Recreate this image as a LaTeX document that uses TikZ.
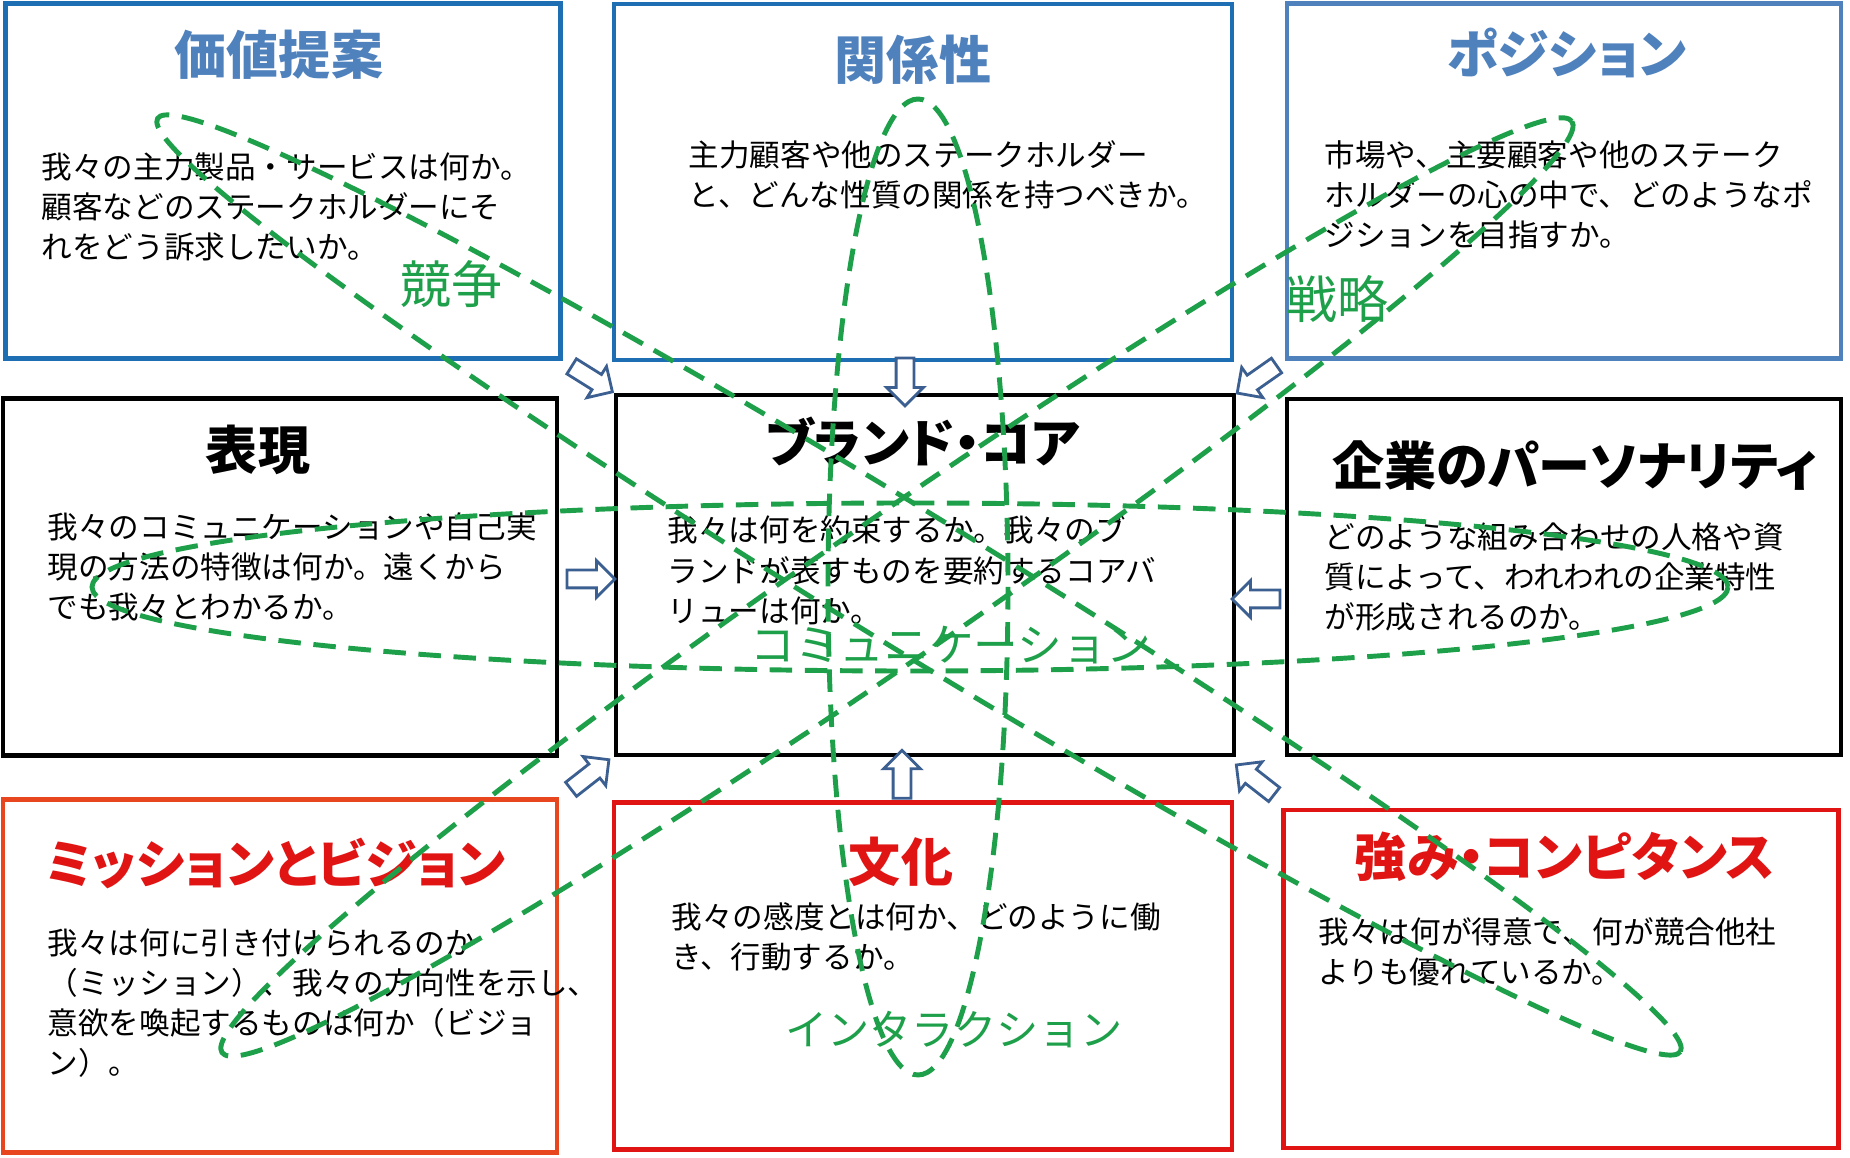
\documentclass[tikz,border=0pt]{standalone}
\usepackage{fontspec}
\setmainfont{Noto Sans CJK JP}
\newfontfamily\ttlfont[RawFeature=+palt]{Noto Sans CJK JP}
\usetikzlibrary{shapes.arrows,calc}
\definecolor{boxblue}{RGB}{30,110,180}
\definecolor{ttlblue}{RGB}{79,129,189}
\definecolor{corered}{RGB}{225,20,20}
\definecolor{misred}{RGB}{232,70,30}
\definecolor{ringgreen}{RGB}{30,160,75}
\definecolor{arrblue}{RGB}{60,95,145}

\begin{document}
\begin{tikzpicture}[x=0.01cm,y=-0.01cm,
  box/.style={draw,line width=1.3pt,fill=white,inner sep=0pt},
  ttl/.style={font=\ttlfont\bfseries\fontsize{14.8pt}{18pt}\selectfont,inner sep=0pt},
  body/.style={font=\fontsize{8.7pt}{11.4pt}\selectfont,align=left,anchor=north west,inner sep=0pt},
  ring/.style={draw=ringgreen,line width=1.4pt,dash pattern=on 6.4pt off 3.6pt},
  ringlbl/.style={text=ringgreen,inner sep=0pt},
  hollow/.style={single arrow,draw=arrblue,fill=white,line width=0.8pt,minimum height=0.48cm,
    inner xsep=0pt,inner ysep=0.075cm,single arrow head extend=0.095cm}
]
\useasboundingbox (0,0) rectangle (1850,1158);

\node[box,draw=boxblue,minimum width=5.55cm,minimum height=3.55cm] (vp) at (283,181) {};
\node[box,draw=boxblue,minimum width=6.18cm,minimum height=3.56cm] (rl) at (923,182) {};
\node[box,draw=ttlblue,minimum width=5.54cm,minimum height=3.55cm] (ps) at (1564,181) {};
\node[box,minimum width=5.54cm,minimum height=3.57cm] (ex) at (280,577) {};
\node[box,minimum width=6.18cm,minimum height=3.60cm] (core) at (925,575) {};
\node[box,minimum width=5.54cm,minimum height=3.56cm] (pe) at (1564,577) {};
\node[box,draw=misred,minimum width=5.54cm,minimum height=3.53cm] (mv) at (280,976) {};
\node[box,draw=corered,minimum width=6.18cm,minimum height=3.47cm] (cu) at (923,976) {};
\node[box,draw=corered,minimum width=5.55cm,minimum height=3.38cm] (st) at (1561,979) {};

\node[hollow,rotate=-32] (a1) at ($(vp.south east)!0.5!(core.north west)$) {};
\node[hollow,rotate=-90] (a2) at ($(rl.south)!0.5!(core.north)+(-19,0)$) {};
\node[hollow,rotate=-145] (a3) at ($(ps.south west)!0.5!(core.north east)$) {};
\node[hollow] (a4) at ($(ex.east)!0.5!(core.west)+(0,3)$) {};
\node[hollow,rotate=180] (a5) at ($(pe.west)!0.5!(core.east)+(0,23)$) {};
\node[hollow,rotate=38] (a6) at ($(mv.north east)!0.5!(core.south west)$) {};
\node[hollow,rotate=90] (a7) at ($(cu.north)!0.5!(core.south)+(-22,0)$) {};
\node[hollow,rotate=142] (a8) at ($(st.north west)!0.5!(core.south east)$) {};

\node[ttl,text=ttlblue] (vpt) at (279,55) {価値提案};
\node[ttl,text=ttlblue] (rlt) at (913,60) {関係性};
\node[ttl,text=ttlblue] (pst) at (1567,53) {ポジション};
\node[ttl] (ext) at (258,450) {表現};
\node[ttl] (cot) at (923,442) {ブランド・コア};
\node[ttl] (pet) at (1575,466) {企業のパーソナリティ};
\node[ttl,text=corered] (mvt) at (276,863) {ミッションとビジョン};
\node[ttl,text=corered] (cut) at (901,862) {文化};
\node[ttl,text=corered] (stt) at (1565,857) {強み・コンピタンス};

\node[body] (vpb) at (41,152) {我々の主力製品・サービスは何か。\\顧客などのステークホルダーにそ\\れをどう訴求したいか。};
\node[body] (rlb) at (688,140) {主力顧客や他のステークホルダー\\と、どんな性質の関係を持つべきか。};
\node[body] (psb) at (1324,140) {市場や、主要顧客や他のステーク\\ホルダーの心の中で、どのようなポ\\ジションを目指すか。};
\node[body] (exb) at (47,512) {我々のコミュニケーションや自己実\\現の方法の特徴は何か。遠くから\\でも我々とわかるか。};
\node[body] (cob) at (667,515) {我々は何を約束するか。我々のブ\\ランドが表すものを要約するコアバ\\リューは何か。};
\node[body] (peb) at (1324,522) {どのような組み合わせの人格や資\\質によって、われわれの企業特性\\が形成されるのか。};
\node[body] (mvb) at (47,928) {我々は何に引き付けられるのか\\（ミッション）、我々の方向性を示し、\\意欲を喚起するものは何か（ビジョ\\ン）。};
\node[body] (cub) at (671,902) {我々の感度とは何か、どのように働\\き、行動するか。};
\node[body] (stb) at (1318,917) {我々は何が得意で、何が競合他社\\よりも優れているか。};

\coordinate (cmpc) at (919,585);
\coordinate (stgc) at (897,587);
\coordinate (intc) at (918,587);
\coordinate (comc) at (910,587);
\draw[ring,rotate around={-31.5:(cmpc)}] (cmpc) ellipse [x radius=893,y radius=67];
\draw[ring,rotate around={34.6:(stgc)}] (stgc) ellipse [x radius=820,y radius=70];
\draw[ring] (intc) ellipse [x radius=90,y radius=488];
\draw[ring] (comc) ellipse [x radius=818,y radius=84];

\node[ringlbl,font=\fontsize{14.5pt}{17pt}\selectfont] (cmp) at (451,284) {競争};
\node[ringlbl,font=\fontsize{14.5pt}{17pt}\selectfont] (stg) at (1337,299) {戦略};
\node[ringlbl,font=\fontsize{12.7pt}{15pt}\selectfont] (com) at (951,645) {コミュニケーション};
\node[ringlbl,font=\fontsize{12pt}{15pt}\selectfont] (int) at (954,1030) {インタラクション};
\end{tikzpicture}
\end{document}
